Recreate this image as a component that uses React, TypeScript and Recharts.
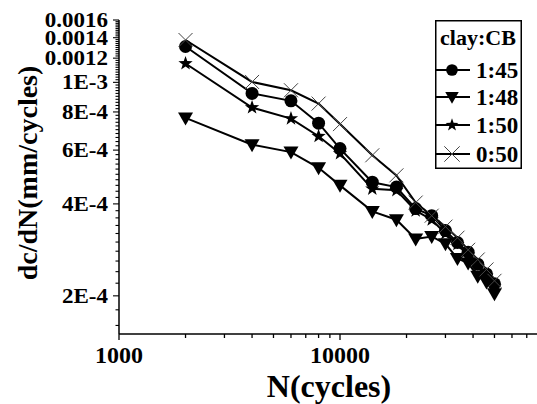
import * as React from 'react';
import { LineChart, Line, XAxis, YAxis, Legend, Label } from 'recharts';

// cycles N (log axis)
const N_CYCLES = [2000, 4000, 6000, 8000, 10000, 14000, 18000, 22000, 26000, 30000, 34000, 38000, 42000, 46000, 50000];

// dc/dN (mm/cycles) per clay:CB ratio
const RATE_1_45 = [1.31e-3, 9.2e-4, 8.7e-4, 7.35e-4, 6.07e-4, 4.71e-4, 4.54e-4, 3.86e-4, 3.66e-4, 3.27e-4, 2.99e-4, 2.78e-4, 2.54e-4, 2.36e-4, 2.19e-4];
const RATE_1_48 = [7.65e-4, 6.25e-4, 5.91e-4, 5.25e-4, 4.6e-4, 3.78e-4, 3.55e-4, 3.07e-4, 3.13e-4, 2.96e-4, 2.65e-4, 2.56e-4, 2.32e-4, 2.22e-4, 2.03e-4];
const RATE_1_50 = [1.153e-3, 8.27e-4, 7.61e-4, 6.66e-4, 5.85e-4, 4.48e-4, 4.43e-4, 3.8e-4, 3.55e-4, 3.2e-4, 2.95e-4, 2.72e-4, 2.5e-4, 2.32e-4, 2.14e-4];
const RATE_0_50 = [1.376e-3, 1.003e-3, 9.42e-4, 8.52e-4, 7.3e-4, 5.77e-4, 4.96e-4, 4.04e-4, 3.66e-4, 3.37e-4, 3.1e-4, 2.83e-4, 2.63e-4, 2.44e-4, 2.24e-4];

const SERIES = [
  { key: 's145', name: '1:45', shape: 'circle', values: RATE_1_45 },
  { key: 's148', name: '1:48', shape: 'triangle', values: RATE_1_48 },
  { key: 's150', name: '1:50', shape: 'star', values: RATE_1_50 },
  { key: 's050', name: '0:50', shape: 'cross', values: RATE_0_50 },
];

const X_MAJOR = [1000, 10000];
const Y_MAJOR = [2e-4, 4e-4, 6e-4, 8e-4, 1e-3, 1.2e-3, 1.4e-3, 1.6e-3];
const Y_LABELS = ['2E-4', '4E-4', '6E-4', '8E-4', '1E-3', '0.0012', '0.0014', '0.0016'];

// minor ticks: log decades on x, steps of 2E-5 on y
const X_TICKS: number[] = [];
for (const d of [1000, 10000]) for (let k = 1; k <= 9; k++) X_TICKS.push(d * k);
X_TICKS.push(100000);
const Y_TICKS: number[] = [];
for (let i = 8; i <= 80; i++) Y_TICKS.push(i * 2e-5);

const FONT = "'Liberation Serif', 'Times New Roman', serif";

const data = N_CYCLES.map((n, i) => {
  const row: Record<string, number> = { n };
  SERIES.forEach((s) => (row[s.key] = s.values[i]));
  return row;
});

function Marker({ shape, cx, cy, s = 1 }: { shape: string; cx: number; cy: number; s?: number }) {
  if (shape === 'circle') return <circle cx={cx} cy={cy} r={6.5 * s} fill="#000" />;
  if (shape === 'triangle') {
    const w = 7.5 * s;
    return <polygon points={`${cx - w},${cy - 5.5 * s} ${cx + w},${cy - 5.5 * s} ${cx},${cy + 7.5 * s}`} fill="#000" />;
  }
  if (shape === 'star') {
    const pts: string[] = [];
    for (let k = 0; k < 10; k++) {
      const r = (k % 2 === 0 ? 7.5 : 3) * s;
      const a = -Math.PI / 2 + (k * Math.PI) / 5;
      pts.push(`${cx + r * Math.cos(a)},${cy + r * Math.sin(a)}`);
    }
    return <polygon points={pts.join(' ')} fill="#000" />;
  }
  const r = 7 * s;
  return (
    <g stroke="#444" strokeWidth={1}>
      <line x1={cx - r} y1={cy - r} x2={cx + r} y2={cy + r} />
      <line x1={cx - r} y1={cy + r} x2={cx + r} y2={cy - r} />
    </g>
  );
}

function XTick(props: any) {
  const { x, y, payload } = props;
  const major = X_MAJOR.includes(payload.value);
  return (
    <g>
      <line x1={x} x2={x} y1={y} y2={y + (major ? 6 : 4)} stroke="#000" strokeWidth={1.3} />
      {major && (
        <text x={x} y={y + 29} textAnchor="middle" fontFamily={FONT} fontWeight="bold" fontSize={24} fill="#000">
          {payload.value}
        </text>
      )}
    </g>
  );
}

function YTick(props: any) {
  const { x, y, payload } = props;
  const idx = Y_MAJOR.findIndex((m) => Math.abs(m - payload.value) / m < 1e-6);
  const major = idx >= 0;
  return (
    <g>
      <line x1={x - (major ? 6 : 3.5)} x2={x} y1={y} y2={y} stroke="#000" strokeWidth={1.1} />
      {major && (
        <text
          transform={`translate(${x - 11} ${y + 7}) scale(1.15 1)`}
          textAnchor="end"
          fontFamily={FONT}
          fontWeight="bold"
          fontSize={20}
          fill="#000"
        >
          {Y_LABELS[idx]}
        </text>
      )}
    </g>
  );
}

function LegendBox() {
  const rows = [50, 77, 105, 134];
  return (
    <svg width={87} height={149} style={{ display: 'block' }}>
      <rect x={0.75} y={0.75} width={85.5} height={147.5} fill="#fff" stroke="#000" strokeWidth={1.5} />
      <text x={43} y={25} textAnchor="middle" fontFamily={FONT} fontWeight="bold" fontSize={22} fill="#000">
        clay:CB
      </text>
      {SERIES.map((s, i) => (
        <g key={s.key}>
          <line x1={0} x2={35} y1={rows[i]} y2={rows[i]} stroke="#000" strokeWidth={2} />
          <Marker shape={s.shape} cx={17} cy={rows[i]} s={s.shape === 'cross' ? 1.1 : 0.9} />
          <text x={41} y={rows[i] + 8} fontFamily={FONT} fontWeight="bold" fontSize={23} fill="#000">
            {s.name}
          </text>
        </g>
      ))}
    </svg>
  );
}

export default function App() {
  return (
    <div style={{ position: 'absolute', left: 0, top: 0, width: 537, height: 404, overflow: 'hidden', background: '#fff' }}>
      <LineChart width={580} height={404} data={data} margin={{ top: 20, right: 19, bottom: 0, left: 0 }}>
        <XAxis
          dataKey="n"
          type="number"
          scale="log"
          domain={[1000, 100000]}
          allowDataOverflow
          ticks={X_TICKS}
          interval={0}
          tick={<XTick />}
          tickLine={false}
          tickSize={0}
          tickMargin={0}
          height={70}
          axisLine={{ stroke: '#000', strokeWidth: 1.5 }}
        >
          <Label
            content={() => (
              <text x={329} y={397} textAnchor="middle" fontFamily={FONT} fontWeight="bold" fontSize={32} fill="#000">
                N(cycles)
              </text>
            )}
          />
        </XAxis>
        <XAxis
          xAxisId="top"
          orientation="top"
          dataKey="n"
          type="number"
          scale="log"
          domain={[1000, 100000]}
          allowDataOverflow
          tick={false}
          tickLine={false}
          height={0}
          axisLine={{ stroke: '#000', strokeWidth: 1.5 }}
        />
        <YAxis
          type="number"
          scale="log"
          domain={[1.5e-4, 1.6e-3]}
          allowDataOverflow
          ticks={Y_TICKS}
          interval={0}
          tick={<YTick />}
          tickLine={false}
          tickSize={0}
          tickMargin={0}
          width={119}
          axisLine={{ stroke: '#000', strokeWidth: 1.5 }}
        >
          <Label
            content={() => (
              <text
                x={27}
                y={173}
                transform="rotate(-90 27 173)"
                dy={10}
                textAnchor="middle"
                fontFamily={FONT}
                fontWeight="bold"
                fontSize={28}
                fill="#000"
              >
                dc/dN(mm/cycles)
              </text>
            )}
          />
        </YAxis>
        <Legend
          layout="horizontal"
          verticalAlign="middle"
          align="center"
          content={() => <LegendBox />}
          wrapperStyle={{ left: 435, top: 20, width: 87, height: 149 }}
        />
        {SERIES.map((s) => (
          <Line
            key={s.key}
            dataKey={s.key}
            name={s.name}
            stroke="#000"
            strokeWidth={2}
            isAnimationActive={false}
            dot={(p: any) => <Marker key={`${s.key}-${p.index}`} shape={s.shape} cx={p.cx} cy={p.cy} />}
            activeDot={false}
          />
        ))}
      </LineChart>
    </div>
  );
}
